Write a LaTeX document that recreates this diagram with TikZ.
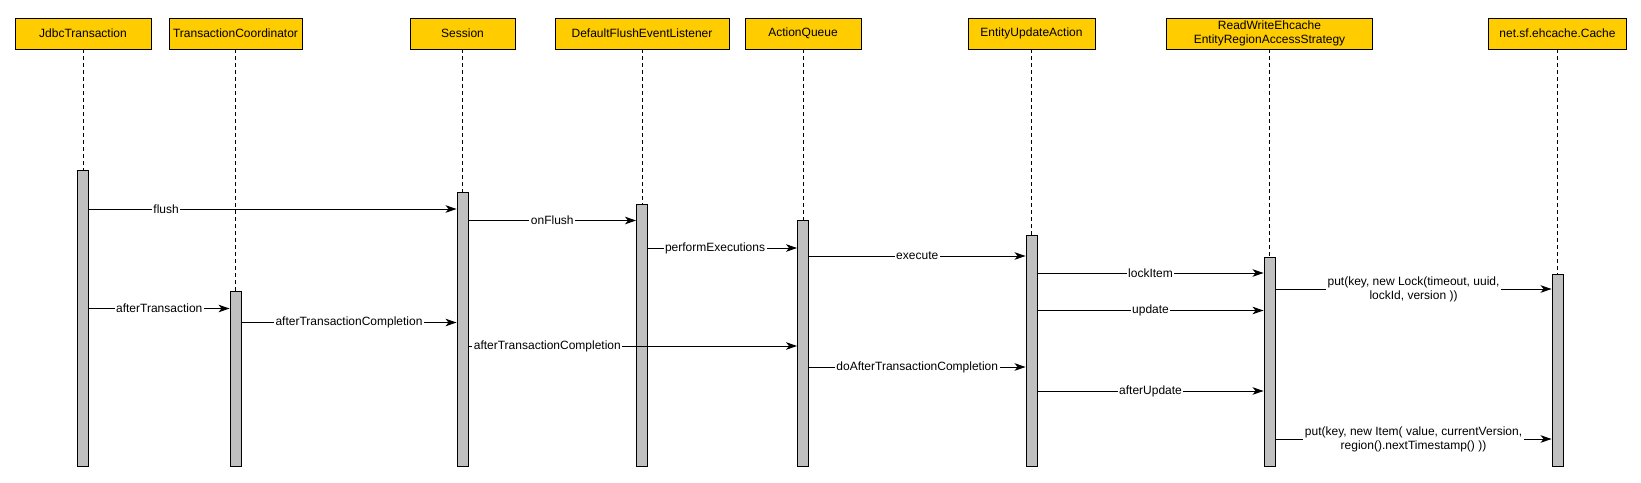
\documentclass[tikz,border=0pt]{standalone}
\usepackage{fontspec}
\setmainfont{Liberation Sans}
\usetikzlibrary{arrows.meta,calc}
\definecolor{hdr}{HTML}{FFCC00}
\definecolor{barc}{HTML}{C0C0C0}
\begin{document}
\begin{tikzpicture}[x=1pt,y=-1pt,
  every node/.style={font=\fontsize{12}{14}\selectfont},
  hdrbox/.style={draw=black,fill=hdr,line width=0.9pt,minimum height=31pt,inner sep=1pt,align=center},
  actbar/.style={draw=black,fill=barc,line width=0.9pt,minimum width=11pt,inner sep=0pt,anchor=north},
  lifeln/.style={draw=black,line width=0.7pt,dash pattern=on 4pt off 3pt},
  msg/.style={draw=black,line width=0.9pt,-{Stealth[length=11pt,width=7.5pt,inset=3pt]}},
  lbl/.style={fill=white,inner sep=1.5pt,align=center}]
\useasboundingbox (0,0) rectangle (1641,482);
% headers
\node[hdrbox,minimum width=136pt] (h1) at (83,33.5) {JdbcTransaction};
\node[hdrbox,minimum width=133pt] (h2) at (235.5,33.5) {TransactionCoordinator};
\node[hdrbox,minimum width=105pt] (h3) at (462.5,33.5) {Session};
\node[hdrbox,minimum width=174pt] (h4) at (642,33.5) {DefaultFlushEventListener};
\node[hdrbox,minimum width=116pt] (h5) at (803,33.5) {ActionQueue};
\node[hdrbox,minimum width=127pt] (h6) at (1031.5,33.5) {EntityUpdateAction};
\node[hdrbox,minimum width=206pt] (h7) at (1269.5,33.5) {ReadWriteEhcache\\EntityRegionAccessStrategy};
\node[hdrbox,minimum width=138pt] (h8) at (1557.5,33.5) {net.sf.ehcache.Cache};
% activation bars
\node[actbar,minimum height=296pt] (b1) at (83,170) {};
\node[actbar,minimum height=175pt] (b2) at (235.5,291) {};
\node[actbar,minimum height=274pt] (b3) at (462.5,192) {};
\node[actbar,minimum height=262pt] (b4) at (642,204) {};
\node[actbar,minimum height=246pt] (b5) at (803,220) {};
\node[actbar,minimum height=231pt] (b6) at (1031.5,235) {};
\node[actbar,minimum height=209pt] (b7) at (1269.5,257) {};
\node[actbar,minimum height=192pt] (b8) at (1557.5,274) {};
% lifelines
\foreach \i in {1,...,8} {\draw[lifeln] (h\i.south) -- (b\i.north);}
% messages
\draw[msg] (b1.east |- 0,209) -- node[lbl,pos=0.21] {flush} (b3.west |- 0,209);
\draw[msg] (b3.east |- 0,220.5) -- node[lbl] {onFlush} (b4.west |- 0,220.5);
\draw[msg] (b4.east |- 0,248) -- node[lbl,pos=0.45] {performExecutions} (b5.west |- 0,248);
\draw[msg] (b5.east |- 0,256) -- node[lbl] {execute} (b6.west |- 0,256);
\draw[msg] (b6.east |- 0,273) -- node[lbl] {lockItem} (b7.west |- 0,273);
\draw[msg] (b7.east |- 0,289) -- node[lbl] {put(key, new Lock(timeout, uuid,\\lockId, version ))} (b8.west |- 0,289);
\draw[msg] (b1.east |- 0,308.5) -- node[lbl] {afterTransaction} (b2.west |- 0,308.5);
\draw[msg] (b6.east |- 0,310.5) -- node[lbl] {update} (b7.west |- 0,310.5);
\draw[msg] (b2.east |- 0,322.5) -- node[lbl] {afterTransactionCompletion} (b3.west |- 0,322.5);
\draw[msg] (b3.east |- 0,346) -- node[lbl,pos=0.24] {afterTransactionCompletion} (b5.west |- 0,346);
\draw[msg] (b5.east |- 0,367) -- node[lbl] {doAfterTransactionCompletion} (b6.west |- 0,367);
\draw[msg] (b6.east |- 0,391) -- node[lbl] {afterUpdate} (b7.west |- 0,391);
\draw[msg] (b7.east |- 0,439) -- node[lbl] {put(key, new Item( value, currentVersion,\\region().nextTimestamp() ))} (b8.west |- 0,439);
\end{tikzpicture}
\end{document}
